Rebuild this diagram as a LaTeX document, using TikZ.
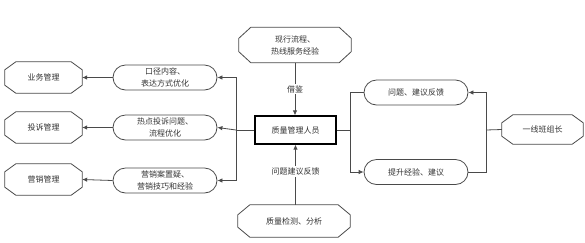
\documentclass[tikz,border=0pt]{standalone}
\usepackage{fontspec}
\newfontfamily\cjk{Noto Sans CJK SC}
\usetikzlibrary{arrows.meta,shapes.misc}
\definecolor{linec}{HTML}{4A4A4A}
\definecolor{textc}{HTML}{333333}
\newcommand\octodraw[3]{% name, dx, dy
  \draw[linec,line width=0.8pt] ([xshift=#2]#1.north west) -- ([xshift=-#2]#1.north east) -- ([yshift=-#3]#1.north east) -- ([yshift=#3]#1.south east) -- ([xshift=-#2]#1.south east) -- ([xshift=#2]#1.south west) -- ([yshift=#3]#1.south west) -- ([yshift=-#3]#1.north west) -- cycle;}
\begin{document}
\begin{tikzpicture}[x=1pt,y=-1pt,
  every node/.style={font=\cjk\fontsize{8}{12}\selectfont, text=textc, align=center, inner sep=0pt},
  octo/.style={minimum width=#1, minimum height=31pt},
  stad/.style={draw=linec, line width=0.8pt, rounded rectangle, rounded rectangle arc length=180, minimum width=104pt, minimum height=25pt},
  boxn/.style={draw=black, line width=1.2pt, minimum width=81pt, minimum height=28pt},
  conn/.style={draw=linec, line width=0.8pt},
  arr/.style={conn, -{Latex[length=5pt,width=4.5pt]}},
  lab/.style={fill=white, inner sep=1.5pt}
]
\useasboundingbox (0,0) rectangle (585,242);
% left octagons
\node[octo=77pt] (ywgl) at (43.5,77.5) {业务管理};
\node[octo=77pt] (tsgl) at (43.5,127.5) {投诉管理};
\node[octo=77pt] (yxgl) at (43.5,179.5) {营销管理};
\octodraw{ywgl}{11pt}{8pt}
\octodraw{tsgl}{11pt}{8pt}
\octodraw{yxgl}{11pt}{8pt}
% left stadiums
\node[stad] (kj) at (165,77.5) {口径内容、\\表达方式优化};
\node[stad] (rd) at (165,127.5) {热点投诉问题、\\流程优化};
\node[stad] (yxa) at (165,180.5) {营销案置疑、\\营销技巧和经验};
% center
\node[boxn] (zl) at (295.5,130) {质量管理人员};
\node[minimum width=112pt, minimum height=35pt] (xx) at (295,45) {现行流程、\\热线服务经验};
\node[minimum width=112pt, minimum height=32pt] (jc) at (294,221) {质量检测、分析};
\octodraw{xx}{12pt}{11pt}
\octodraw{jc}{12pt}{10pt}
% right stadiums
\node[stad] (wt) at (416,92.5) {问题、建议反馈};
\node[stad] (ts) at (416,172) {提升经验、建议};
\node[octo=81pt, minimum height=29pt] (bz) at (542.5,129.5) {一线班组长};
\octodraw{bz}{11pt}{8pt}
% coordinates
\coordinate (lb) at (236,130);
\coordinate (rb) at (350,130);
\coordinate (fb) at (486,130);
% connectors left
\draw[arr] (kj.west) -- (ywgl.east);
\draw[arr] (rd.west) -- (tsgl.east);
\draw[arr] (yxa.west) -- (yxgl.east);
\draw[conn] (zl.west) -- (lb);
\draw[arr] (lb) |- (kj.east);
\draw[arr] (lb) -- (rd.east);
\draw[arr] (lb) |- (yxa.east);
% vertical
\draw[arr] (xx.south) -- node[lab] {借鉴} (zl.north -| xx.south);
\draw[arr] (jc.north -| zl.south) -- node[lab, pos=0.55] {问题建议反馈} (zl.south);
% right
\draw[conn] (zl.east) -- (rb);
\draw[conn] (rb) |- (wt.west);
\draw[arr] (rb) |- (ts.west);
\draw[conn] (bz.west) -- (fb);
\draw[arr] (fb) |- (wt.east);
\draw[conn] (fb) |- (ts.east);
\end{tikzpicture}
\end{document}
